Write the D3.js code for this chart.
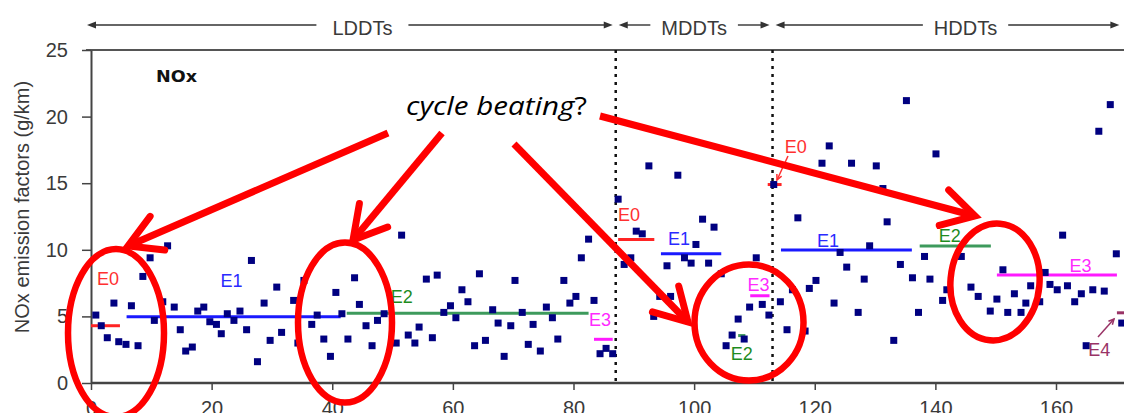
<!DOCTYPE html>
<html><head><meta charset="utf-8">
<script src="https://cdn.jsdelivr.net/npm/d3@7"></script>
<style>html,body{margin:0;padding:0;background:#fff;overflow:hidden} svg{display:block}</style>
</head><body>
<svg id="c" width="1124" height="413"></svg>
<script>
// ---------------- data ----------------
const xTicks = [0, 20, 40, 60, 80, 100, 120, 140, 160];
const yTicks = [0, 5, 10, 15, 20, 25];
const groups = ["LDDTs", "MDDTs", "HDDTs"];
const groupBounds = [0, 87, 113, 171];

const vehicleIdx = [
  0.8,1.7,2.7,3.8,4.6,5.8,6.7,7.8,8.6,9.8,10.5,11.9,12.7,13.8,14.8,15.7,16.8,17.7,18.7,19.7,
  20.8,21.6,22.6,23.7,24.7,25.8,26.6,27.6,28.7,29.7,30.8,31.6,33.6,34.3,35.3,36.6,37.5,38.6,39.7,40.6,
  41.6,42.6,43.7,44.5,45.6,46.6,47.5,48.6,50.6,51.5,52.6,53.7,54.4,55.6,56.6,57.4,58.5,59.6,60.5,61.5,
  62.5,63.6,64.4,65.4,66.6,67.5,68.5,69.6,70.3,71.5,72.5,73.3,74.5,75.5,76.5,77.4,78.4,79.4,80.4,81.3,
  82.5,83.4,84.4,85.4,86.5,
  87.4,88.4,89.5,90.4,91.4,92.5,93.3,94.3,95.5,96.1,97.3,98.4,99.5,100.3,101.4,102.4,103.3,104.5,105.3,106.3,
  107.3,108.3,109.2,110.3,111.3,112.4,
  113.2,114.3,115.4,116.3,117.2,118.4,119.1,120.2,121.2,122.4,123.2,124.2,125.3,126.1,127.2,128.2,129.1,130.2,131.3,132.0,
  133.1,134.2,135.2,136.2,137.2,138.2,139.1,140.1,141.2,141.9,144.3,145.9,147.1,149.1,150.2,151.2,152.0,153.1,154.2,155.0,
  155.8,157.3,158.2,159.0,160.2,161.1,161.9,163.1,164.2,165.0,166.1,167.1,168.0,169.0,170.0,170.9
];
const noxValues = [
  5.1,4.3,3.4,6.0,3.1,2.9,5.8,2.8,8.0,9.4,4.7,6.1,10.3,5.7,4.0,2.4,2.7,5.4,5.7,4.6,
  4.4,3.7,5.2,4.7,5.4,4.0,9.2,1.6,6.0,3.2,7.2,3.8,6.2,3.0,7.7,4.4,5.1,3.3,2.0,6.8,
  5.2,3.3,7.9,5.9,4.3,2.8,4.7,5.2,3.0,11.1,3.6,3.0,4.2,7.8,3.4,8.1,5.3,5.8,4.9,7.0,
  6.1,2.8,8.2,3.2,5.5,4.5,2.0,4.3,7.7,5.3,2.9,4.4,2.4,5.7,4.9,3.3,7.7,6.0,6.5,9.4,
  10.8,6.2,2.2,2.6,2.2,
  13.8,8.9,9.4,11.4,11.2,16.3,5.0,6.5,8.8,6.5,15.6,9.4,9.0,10.4,12.3,9.0,11.7,8.2,2.8,3.6,
  4.8,3.3,5.7,9.4,5.9,5.1,
  14.9,6.1,4.0,7.0,12.4,3.9,7.1,7.7,16.5,17.8,6.0,9.8,8.7,16.5,5.3,7.8,10.3,16.3,14.6,12.1,
  3.2,8.9,21.2,7.9,5.3,9.5,7.8,17.2,6.2,7.0,9.5,7.2,6.5,5.4,6.3,8.5,5.3,6.7,5.3,6.0,
  7.3,6.1,8.3,7.4,7.0,11.1,7.3,6.1,6.7,2.8,7.0,18.9,6.9,20.9,9.7,4.5
];

// Euro-standard average levels per vehicle class
const levelName  = ["E0","E1","E2","E3","E0","E1","E2","E3","E0","E1","E2","E3","E4"];
const levelFrom  = [0, 5.9, 42.4, 83.4, 87.4, 94.5, 107.3, 109.3, 112.2, 114.4, 137.4, 150.2, 170.1];
const levelTo    = [4.8, 41.4, 82.5, 86.5, 93.4, 104.5, 108.5, 112.5, 114.5, 136.1, 149.2, 170.1, 174];
const levelValue = [4.3, 4.97, 5.23, 3.28, 10.78, 9.7, 3.56, 6.55, 14.9, 9.98, 10.28, 8.1, 5.27];

// ---------------- drawing ----------------
const FONT = "'Liberation Sans', Arial, Helvetica, sans-serif";
const svg = d3.select("#c");
const x = d3.scaleLinear().domain([0, 160]).range([91, 1056]);
const y = d3.scaleLinear().domain([0, 25]).range([383, 50]);

const lineColor = {E0:"#ff2424", E1:"#1a1aff", E2:"#3d9a5c", E3:"#ff1aff", E4:"#993366"};
const labelColor = {E0:"#ff3030", E1:"#2a2aff", E2:"#1e8c1e", E3:"#ff2aff", E4:"#993366"};
// label offsets (px) relative to start of level line
const labelOff = [[17,-41],[105,-30],[55,-10],[6,-13],[11,-18],[18,-9],[3.5,24.5],[8.3,-5],[28,-31.6],[47,-3.5],[30,-4.3],[83.6,-3.3],[-17.7,43.3]];

// top frame line
svg.append("line").attr("x1", 86).attr("x2", 1124).attr("y1", y(25)).attr("y2", y(25))
  .attr("stroke", "#555").attr("stroke-width", 2);

// y axis
const gy = svg.append("g").attr("transform", `translate(${x(0)},0)`)
  .call(d3.axisLeft(y).tickValues(yTicks).tickSize(9).tickSizeOuter(0).tickPadding(14));
gy.select(".domain").attr("stroke", "#444").attr("stroke-width", 2);
gy.selectAll(".tick line").attr("stroke", "#444").attr("stroke-width", 1.5);
gy.selectAll(".tick text").attr("font-family", FONT).attr("font-size", 20).attr("fill", "#3a3a3a");

// x axis
const gx = svg.append("g").attr("transform", `translate(0,${y(0)})`)
  .call(d3.axisBottom(x).tickValues(xTicks).tickSize(7).tickSizeOuter(0).tickPadding(11));
gx.select(".domain").attr("d", `M${x(0)},0H1130`).attr("stroke", "#444").attr("stroke-width", 2.5);
gx.selectAll(".tick line").attr("stroke", "#444").attr("stroke-width", 1.5);
gx.selectAll(".tick text").attr("font-family", FONT).attr("font-size", 20).attr("fill", "#3a3a3a");

// y title
svg.append("text").attr("transform", "translate(29,207) rotate(-90)")
  .attr("text-anchor", "middle").attr("font-family", FONT).attr("font-size", 20)
  .attr("fill", "#3a3a3a").text("NOx emission factors (g/km)");

// panel label
svg.append("text").attr("x", 156).attr("y", 82).attr("font-family", "'DejaVu Sans', Verdana, sans-serif")
  .attr("font-weight", "bold").attr("font-size", 16.5).attr("fill", "#111")
  .attr("textLength", 41).attr("lengthAdjust", "spacingAndGlyphs").text("NOx");

// group separators (dotted)
svg.selectAll("line.sep").data(groupBounds.slice(1, 3)).join("line").attr("class", "sep")
  .attr("x1", d => x(d)).attr("x2", d => x(d)).attr("y1", y(25)).attr("y2", y(0))
  .attr("stroke", "#111").attr("stroke-width", 2.5).attr("stroke-dasharray", "3,5");

// header arrows + labels
const groupLabelAt = [45, 100, 145];
const HY = 25;
groups.forEach((g, i) => {
  const x0 = x(groupBounds[i]) + (i ? 3 : -4);
  const x1 = x(groupBounds[i + 1]) - 3;
  const t = svg.append("text").attr("x", x(groupLabelAt[i])).attr("y", 34.5)
    .attr("text-anchor", "middle").attr("font-family", FONT).attr("font-size", 20)
    .attr("fill", "#3a3a3a").text(g);
  const w = t.node().getComputedTextLength();
  const gap = i === 0 ? 16 : 11;
  const tl = x(groupLabelAt[i]) - w / 2 - gap, tr = x(groupLabelAt[i]) + w / 2 + gap;
  svg.append("line").attr("x1", x0 + 6).attr("x2", tl).attr("y1", HY).attr("y2", HY)
    .attr("stroke", "#333").attr("stroke-width", 1.4);
  svg.append("line").attr("x1", tr).attr("x2", x1 - 6).attr("y1", HY).attr("y2", HY)
    .attr("stroke", "#333").attr("stroke-width", 1.4);
  svg.append("path").attr("d", `M${x0},${HY}L${x0 + 9},${HY - 3.5}L${x0 + 9},${HY + 3.5}Z`).attr("fill", "#333");
  svg.append("path").attr("d", `M${x1},${HY}L${x1 - 9},${HY - 3.5}L${x1 - 9},${HY + 3.5}Z`).attr("fill", "#333");
});

// level lines
const levels = levelName.map((n, i) => ({n, a: levelFrom[i], b: levelTo[i], v: levelValue[i], off: labelOff[i]}));
svg.selectAll("line.lvl").data(levels).join("line").attr("class", "lvl")
  .attr("x1", d => x(d.a)).attr("x2", d => x(d.b)).attr("y1", d => y(d.v)).attr("y2", d => y(d.v))
  .attr("stroke", d => lineColor[d.n]).attr("stroke-width", 3);

// points
const pts = vehicleIdx.map((v, i) => ({x: v, y: noxValues[i]}));
const S = 7;
svg.selectAll("rect.pt").data(pts).join("rect").attr("class", "pt")
  .attr("x", d => x(d.x) - S / 2).attr("y", d => y(d.y) - S / 2).attr("width", S).attr("height", S)
  .attr("fill", "#000080");

// level labels
svg.selectAll("text.lvl").data(levels).join("text").attr("class", "lvl")
  .attr("x", d => x(d.a) + d.off[0]).attr("y", d => y(d.v) + d.off[1])
  .attr("text-anchor", "middle").attr("font-family", FONT).attr("font-size", 18)
  .attr("fill", d => labelColor[d.n]).text(d => d.n);

// leader lines for small labels
function leader(x1, y1, x2, y2, col) {
  svg.append("line").attr("x1", x1).attr("y1", y1).attr("x2", x2).attr("y2", y2)
    .attr("stroke", col).attr("stroke-width", 1.5);
  const a = Math.atan2(y2 - y1, x2 - x1), L = 6;
  const p1 = [x2 - L * Math.cos(a - 0.45), y2 - L * Math.sin(a - 0.45)];
  const p2 = [x2 - L * Math.cos(a + 0.45), y2 - L * Math.sin(a + 0.45)];
  svg.append("path").attr("d", `M${p1}L${x2},${y2}L${p2}`).attr("fill", "none")
    .attr("stroke", col).attr("stroke-width", 1.5);
}
leader(788, 156, 777, 180, "#ff3030");
leader(1098, 337, 1114, 319, "#993366");

// ---------------- red annotation overlay ----------------
const RED = "#ff0000";
const ell = [
  {cx: 116, cy: 333, rx: 48, ry: 84, r: 0},
  {cx: 345, cy: 322.5, rx: 47, ry: 80, r: 0},
  {cx: 749, cy: 322.5, rx: 54.5, ry: 58, r: 0},
  {cx: 995, cy: 282, rx: 44.5, ry: 58.5, r: 5}
];
svg.selectAll("ellipse.ann").data(ell).join("ellipse").attr("class", "ann")
  .attr("cx", d => d.cx).attr("cy", d => d.cy).attr("rx", d => d.rx).attr("ry", d => d.ry)
  .attr("transform", d => `rotate(${d.r},${d.cx},${d.cy})`)
  .attr("fill", "none").attr("stroke", RED).attr("stroke-width", 6.5);

const arrows = [
  {t: [388, 133], h: [128, 246]},
  {t: [442, 133], h: [353, 240]},
  {t: [514, 144], h: [688, 322]},
  {t: [600, 116], h: [975, 216]}
];
arrows.forEach(d => {
  svg.append("line").attr("x1", d.t[0]).attr("y1", d.t[1]).attr("x2", d.h[0]).attr("y2", d.h[1])
    .attr("stroke", RED).attr("stroke-width", 7).attr("stroke-linecap", "butt");
  const a = Math.atan2(d.t[1] - d.h[1], d.t[0] - d.h[0]), L = 37, da = 0.52;
  const p1 = [d.h[0] + L * Math.cos(a - da), d.h[1] + L * Math.sin(a - da)];
  const p2 = [d.h[0] + L * Math.cos(a + da), d.h[1] + L * Math.sin(a + da)];
  svg.append("path").attr("d", `M${p1}L${d.h[0]},${d.h[1]}L${p2}`).attr("fill", "none")
    .attr("stroke", RED).attr("stroke-width", 7).attr("stroke-linejoin", "miter").attr("stroke-linecap", "round");
});

const cb = svg.append("text").attr("x", 406).attr("y", 115)
  .attr("font-family", "'Open Sans', 'Noto Sans', sans-serif").attr("font-size", 26).attr("fill", "#000");
cb.append("tspan").attr("font-style", "italic").text("cycle beating");
cb.append("tspan").text("?");
cb.attr("textLength", 181).attr("lengthAdjust", "spacingAndGlyphs");
</script>
</body></html>
